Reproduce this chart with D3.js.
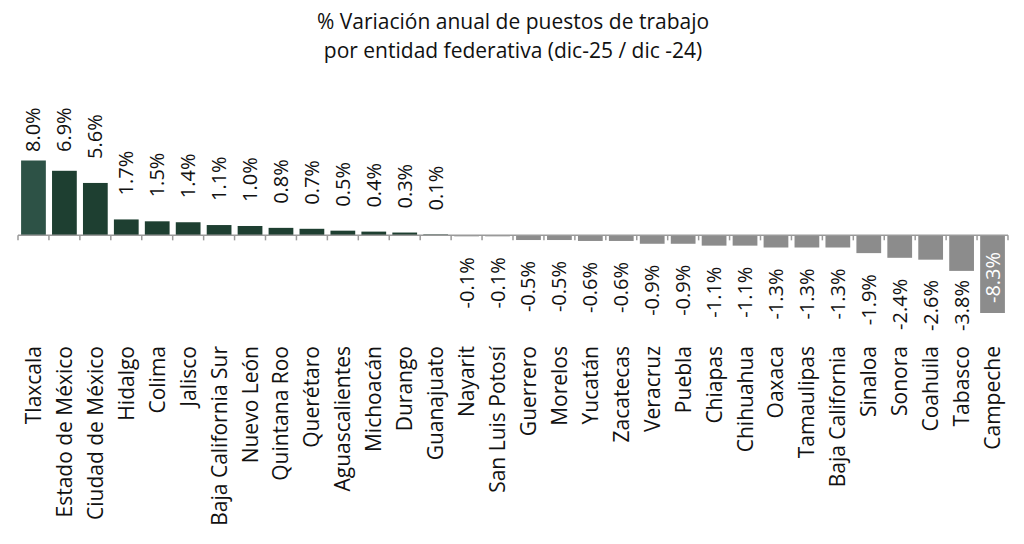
<!DOCTYPE html>
<html><head><meta charset="utf-8">
<script src="https://cdn.jsdelivr.net/npm/d3@7"></script>
<style>body{margin:0;background:#fff}svg{display:block}</style>
</head><body>
<svg id="c" width="1024" height="544"></svg>
<script>
const categories = ["Tlaxcala","Estado de México","Ciudad de México","Hidalgo","Colima","Jalisco","Baja California Sur","Nuevo León","Quintana Roo","Querétaro","Aguascalientes","Michoacán","Durango","Guanajuato","Nayarit","San Luis Potosí","Guerrero","Morelos","Yucatán","Zacatecas","Veracruz","Puebla","Chiapas","Chihuahua","Oaxaca","Tamaulipas","Baja California","Sinaloa","Sonora","Coahuila","Tabasco","Campeche"];
const values = [8.0,6.9,5.6,1.7,1.5,1.4,1.1,1.0,0.8,0.7,0.5,0.4,0.3,0.1,-0.1,-0.1,-0.5,-0.5,-0.6,-0.6,-0.9,-0.9,-1.1,-1.1,-1.3,-1.3,-1.3,-1.9,-2.4,-2.6,-3.8,-8.3];
const titleLines = ["% Variación anual de puestos de trabajo","por entidad federativa (dic-25 / dic -24)"];

const svg = d3.select("#c");
const font = "'Open Sans', sans-serif";
const x = d3.scaleBand().domain(categories).range([18, 1008]).paddingInner(0.2).paddingOuter(0.1);
const y = d3.scaleLinear().domain([-8.3, 8.0]).range([313, 160.5]);
const y0 = y(0);

svg.append("g").selectAll("text").data(titleLines).join("text")
  .attr("x", 513).attr("y", (d,i)=>29+i*29).attr("text-anchor","middle")
  .attr("font-family", font).attr("font-size", 21).attr("fill","#111").text(d=>d);

const data = categories.map((c,i)=>({c, v: values[i], i}));

svg.append("g").selectAll("rect").data(data).join("rect")
  .attr("x", d=>x(d.c)).attr("width", x.bandwidth())
  .attr("y", d=>Math.min(y(d.v), y0)).attr("height", d=>Math.max(1, Math.abs(y(d.v)-y0)))
  .attr("fill", d=> d.v>0 ? (d.i===0 ? "#2d5246" : "#1e3f31") : "#8c8c8c");

// axis
const ax = svg.append("g").attr("transform", `translate(0,${y0})`);
ax.append("line").attr("x1", 18).attr("x2", 1008).attr("stroke","#9a9a9a").attr("stroke-width",1.5);
ax.selectAll("line.t").data(d3.range(categories.length+1)).join("line").attr("class","t")
  .attr("x1", i=>x.range()[0] + i*(x.range()[1]-x.range()[0])/categories.length)
  .attr("x2", i=>x.range()[0] + i*(x.range()[1]-x.range()[0])/categories.length)
  .attr("y1",0).attr("y2",5).attr("stroke","#9a9a9a").attr("stroke-width",1.5);

// category labels
svg.append("g").selectAll("text").data(data).join("text")
  .attr("transform", d=>`translate(${x(d.c)+x.bandwidth()/2+7.5},346) rotate(-90)`)
  .attr("text-anchor","end").attr("font-family", font).attr("font-size", 21).attr("fill","#111")
  .text(d=>d.c);

// value labels
const fmt = v => v.toFixed(1) + "%";
svg.append("g").selectAll("text").data(data).join("text")
  .attr("transform", d=>{
    const cx = x(d.c)+x.bandwidth()/2+7;
    if (d.v >= 0) {
      const b = Math.max(y(d.v) - 24, 152);
      return `translate(${cx},${b}) rotate(-90)`;
    } else if (d.v < -5) {
      return `translate(${cx},${y(d.v)-10}) rotate(-90)`;
    } else {
      const t = Math.min(y(d.v) + 21, 280);
      return `translate(${cx},${t}) rotate(-90)`;
    }
  })
  .attr("text-anchor", d=> d.v >= 0 || d.v < -5 ? "start" : "end")
  .attr("font-family", font).attr("font-size", 20)
  .attr("fill", d=> d.v < -5 ? "#fff" : "#111")
  .text(d=>fmt(d.v));
</script>
</body></html>
